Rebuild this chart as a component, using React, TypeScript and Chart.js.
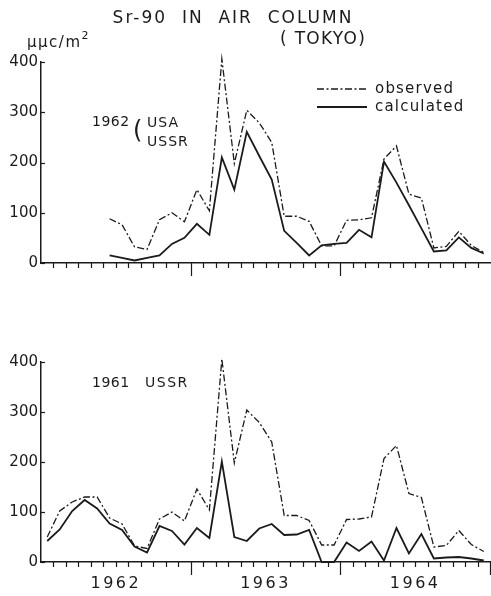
import React, { useEffect, useRef } from 'react';
import { Chart, registerables } from 'chart.js';

Chart.register(...registerables);

// ---------------- data ----------------
const MONTHS = [
  '1962-01', '1962-02', '1962-03', '1962-04', '1962-05', '1962-06',
  '1962-07', '1962-08', '1962-09', '1962-10', '1962-11', '1962-12',
  '1963-01', '1963-02', '1963-03', '1963-04', '1963-05', '1963-06',
  '1963-07', '1963-08', '1963-09', '1963-10', '1963-11', '1963-12',
  '1964-01', '1964-02', '1964-03', '1964-04', '1964-05', '1964-06',
  '1964-07', '1964-08', '1964-09', '1964-10', '1964-11', '1964-12',
];

const YEAR_LABELS = ['1962', '1963', '1964'];
const Y_TICKS = [0, 100, 200, 300, 400];

// observed Sr-90 (μμc/m²), shared by both panels
const OBSERVED = [
  50, 102, 120, 130, 130, 88, 76, 32, 27, 86, 100, 82,
  146, 104, 406, 198, 304, 279, 240, 93, 93, 83, 34, 34,
  85, 86, 90, 207, 233, 137, 129, 30, 33, 63, 35, 21,
];

// upper panel starts in June 1962
const OBSERVED_1962 = [
  null, null, null, null, null, 88, 76, 32, 27, 86, 100, 82,
  146, 104, 406, 198, 304, 279, 240, 93, 93, 83, 34, 34,
  85, 86, 90, 207, 233, 137, 129, 30, 33, 63, 35, 21,
];

// calculated, 1962 USA + USSR tests
const CALC_1962 = [
  null, null, null, null, null, 15, 10, 5, 10, 15, 38, 50,
  78, 56, 210, 146, 261, 213, 166, 64, 40, 15, 35, 38,
  40, 66, 51, 202, 160, 115, 69, 23, 25, 51, 30, 19,
];

// calculated, 1961 USSR tests
const CALC_1961 = [
  42, 65, 102, 124, 107, 77, 64, 31, 19, 72, 62, 35,
  68, 48, 201, 50, 42, 67, 76, 54, 55, 64, 0, 0,
  39, 22, 41, 3, 68, 17, 56, 7, 9, 10, 7, 3,
];

// ---------------- styling ----------------
const INK = '#1b1b1b';
const FONT = '"DejaVu Sans", "Liberation Sans", sans-serif';
const OBS_DASH = [7, 2.5, 2, 2.5];

function drawText(
  ctx: CanvasRenderingContext2D,
  text: string,
  x: number,
  y: number,
  size: number,
  spacing: number,
  align: 'left' | 'center' | 'right' = 'left'
): number {
  ctx.save();
  ctx.font = `${size}px ${FONT}`;
  ctx.fillStyle = INK;
  ctx.textBaseline = 'middle';
  ctx.textAlign = 'left';
  const anyCtx = ctx as any;
  if ('letterSpacing' in anyCtx) anyCtx.letterSpacing = `${spacing}px`;
  const w = ctx.measureText(text).width;
  const sx = align === 'center' ? x - w / 2 : align === 'right' ? x - w : x;
  ctx.fillText(text, sx, y);
  ctx.restore();
  return sx + w;
}

type Deco = 'top' | 'bottom';

function makeDecor(kind: Deco) {
  return {
    id: 'decor-' + kind,
    afterDraw(chart: any) {
      const ctx: CanvasRenderingContext2D = chart.ctx;
      const xs = chart.scales.x;
      const ys = chart.scales.y;
      const { left, bottom } = chart.chartArea;
      ctx.save();
      ctx.strokeStyle = INK;
      ctx.lineWidth = 1.2;
      // month ticks on the x axis
      for (let i = 1; i <= MONTHS.length; i++) {
        const px = Math.round(xs.getPixelForValue(i - 0.5)) + 0.5;
        const major = i % 12 === 0;
        if (i === MONTHS.length && kind === 'top') continue;
        const len = major ? 13 : 5;
        ctx.beginPath();
        ctx.moveTo(px, bottom);
        ctx.lineTo(px, bottom + len);
        ctx.stroke();
      }
      // inward y ticks
      for (const v of Y_TICKS) {
        const py = Math.round(ys.getPixelForValue(v)) + 0.5;
        ctx.beginPath();
        ctx.moveTo(left, py);
        ctx.lineTo(left + 4, py);
        ctx.stroke();
      }
      ctx.restore();

      if (kind === 'top') {
        drawText(ctx, 'Sr-90  IN  AIR  COLUMN', 233, 18.5, 17, 2, 'center');
        drawText(ctx, '( TOKYO)', 280, 40, 17, 1.3);
        const endX = drawText(ctx, 'μμc/m', 27, 43, 15, 1.5);
        drawText(ctx, '2', endX, 36, 11, 0);
        drawText(ctx, '1962', 92, 122, 14, 0.5);
        drawText(ctx, '(', 133, 132, 24, 0);
        drawText(ctx, 'USA', 147, 123, 14, 1);
        drawText(ctx, 'USSR', 147, 142, 14, 1);
        // legend
        const items = [
          { label: 'observed', y: 89, dash: OBS_DASH, w: 1.3 },
          { label: 'calculated', y: 107, dash: [] as number[], w: 1.8 },
        ];
        for (const it of items) {
          ctx.save();
          ctx.strokeStyle = INK;
          ctx.lineWidth = it.w;
          ctx.setLineDash(it.dash);
          ctx.beginPath();
          ctx.moveTo(317, it.y);
          ctx.lineTo(367, it.y);
          ctx.stroke();
          ctx.restore();
          drawText(ctx, it.label, 375, it.y, 15, 1.2);
        }
      } else {
        drawText(ctx, '1961', 92, 83, 14, 0.5);
        drawText(ctx, 'USSR', 145, 83, 14, 1.5);
        YEAR_LABELS.forEach((lab, k) => {
          const cx = xs.getPixelForValue(k * 12 + 5.5);
          drawText(ctx, lab, cx, 284, 16, 2.5, 'center');
        });
      }
    },
  };
}

function Panel(props: {
  top: number;
  height: number;
  kind: Deco;
  observed: (number | null)[];
  calculated: (number | null)[];
}) {
  const ref = useRef<HTMLCanvasElement>(null);
  useEffect(() => {
    const canvas = ref.current!;
    const chartBottom = props.kind === 'top' ? 263 : 262;
    const chart = new Chart(canvas, {
      type: 'line',
      data: {
        labels: MONTHS,
        datasets: [
          {
            label: 'observed',
            data: props.observed,
            borderColor: INK,
            borderWidth: 1.3,
            borderDash: OBS_DASH,
            pointRadius: 0,
            tension: 0,
            fill: false,
            clip: false,
          } as any,
          {
            label: 'calculated',
            data: props.calculated,
            borderColor: INK,
            borderWidth: 1.8,
            pointRadius: 0,
            tension: 0,
            fill: false,
            clip: false,
          } as any,
        ],
      },
      options: {
        responsive: false,
        animation: false,
        devicePixelRatio: 1,
        layout: { padding: { top: 62, right: 1, left: 0, bottom: 0 } },
        plugins: {
          legend: { display: false },
          tooltip: { enabled: false },
        },
        events: [],
        scales: {
          x: {
            type: 'category',
            offset: true,
            grid: { display: false },
            border: { display: true, color: INK, width: 1.5 },
            ticks: { display: false },
            afterFit: (s: any) => {
              s.height = props.height - chartBottom;
            },
          },
          y: {
            min: 0,
            max: 400,
            grid: { display: false, drawTicks: false },
            border: { display: true, color: INK, width: 1.5 },
            ticks: {
              stepSize: 100,
              padding: 3,
              color: INK,
              font: { family: FONT, size: 15 },
              callback: (v: any) => (Y_TICKS.includes(Number(v)) ? String(v) : ''),
            },
            afterFit: (s: any) => {
              s.width = 41;
            },
          },
        },
      },
      plugins: [makeDecor(props.kind)],
    });
    return () => chart.destroy();
  }, []);
  return (
    <canvas
      ref={ref}
      width={491}
      height={props.height}
      style={{ position: 'absolute', left: 0, top: props.top, width: 491, height: props.height, display: 'block' }}
    />
  );
}

export default function App() {
  return (
    <div style={{ position: 'absolute', left: 0, top: 0, width: 491, height: 596, background: '#fff' }}>
      <Panel top={0} height={300} kind="top" observed={OBSERVED_1962} calculated={CALC_1962} />
      <Panel top={300} height={296} kind="bottom" observed={OBSERVED} calculated={CALC_1961} />
    </div>
  );
}
